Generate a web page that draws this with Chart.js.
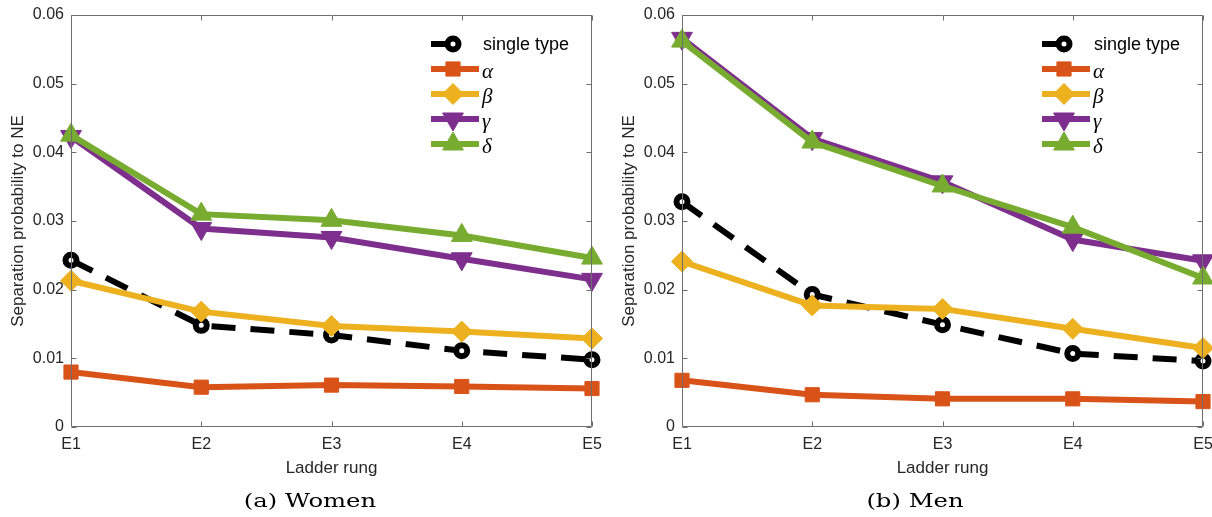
<!DOCTYPE html>
<html>
<head>
<meta charset="utf-8">
<script src="https://cdn.jsdelivr.net/npm/chart.js"></script>
<style>
  body { margin: 0; background: #fff; }
  .row { display: flex; width: 1212px; height: 517px; }
  canvas { display: block; }
</style>
</head>
<body>
<div class="row">
  <canvas id="women" width="606" height="517"></canvas>
  <canvas id="men" width="606" height="517"></canvas>
</div>
<script>
// Ladder rungs and y tick labels
const rungs = ['E1', 'E2', 'E3', 'E4', 'E5'];
const yTickLabels = ['0', '0.01', '0.02', '0.03', '0.04', '0.05', '0.06'];
const seriesNames = ['single type', 'α', 'β', 'γ', 'δ'];

// (a) Women
const womenSingle = [0.0243, 0.0148, 0.0134, 0.0111, 0.0098];
const womenAlpha  = [0.0080, 0.0058, 0.0061, 0.0059, 0.0056];
const womenBeta   = [0.0213, 0.0168, 0.0147, 0.0139, 0.0129];
const womenGamma  = [0.0423, 0.0289, 0.0276, 0.0245, 0.0215];
const womenDelta  = [0.0425, 0.0310, 0.0301, 0.0279, 0.0246];

// (b) Men
const menSingle = [0.0328, 0.0193, 0.0149, 0.0107, 0.0096];
const menAlpha  = [0.0068, 0.0047, 0.0041, 0.0041, 0.0037];
const menBeta   = [0.0241, 0.0177, 0.0172, 0.0143, 0.0115];
const menGamma  = [0.0566, 0.0420, 0.0357, 0.0273, 0.0242];
const menDelta  = [0.0562, 0.0415, 0.0351, 0.0291, 0.0217];

const sans = "'Liberation Sans', Arial, sans-serif";
const axisColor = '#6e6e6e';

function styles() {
    return [
        { borderColor: '#000000', borderDash: [24, 15], pointStyle: 'circle', pointRadius: 5.5,
          pointBorderWidth: 6, pointBackgroundColor: '#ffffff', pointBorderColor: '#000000', order: 5 },
        { borderColor: '#D95319', pointStyle: 'rect', pointRadius: 10, pointBorderWidth: 1,
          pointBackgroundColor: '#D95319', pointBorderColor: '#D95319', order: 4 },
        { borderColor: '#EDB120', pointStyle: 'rectRot', pointRadius: 10.5, pointBorderWidth: 1,
          pointBackgroundColor: '#EDB120', pointBorderColor: '#EDB120', order: 3 },
        { borderColor: '#7E2F8E', pointStyle: 'triangle', pointRotation: 180, pointRadius: 12, pointBorderWidth: 1,
          pointBackgroundColor: '#7E2F8E', pointBorderColor: '#7E2F8E', order: 2 },
        { borderColor: '#77AC30', pointStyle: 'triangle', pointRadius: 12, pointBorderWidth: 1,
          pointBackgroundColor: '#77AC30', pointBorderColor: '#77AC30', order: 1 }
    ];
}

// box, inward ticks, legend and caption
const matlabLook = {
    id: 'matlabLook',
    afterDraw(chart, args, opts) {
        const ctx = chart.ctx;
        const a = chart.chartArea;
        const xs = chart.scales.x, ys = chart.scales.y;
        const L = Math.round(a.left) + 0.5, R = Math.round(a.right) - 0.5;
        const T = Math.round(a.top) + 0.5, B = Math.round(a.bottom) - 0.5;
        ctx.save();
        ctx.strokeStyle = axisColor;
        ctx.lineWidth = 1;
        ctx.beginPath();
        ctx.rect(L, T, R - L, B - T);
        ys.ticks.forEach((t, i) => {
            const y = Math.round(ys.getPixelForTick(i)) + 0.5;
            ctx.moveTo(L, y); ctx.lineTo(L + 5, y);
            ctx.moveTo(R, y); ctx.lineTo(R - 5, y);
        });
        xs.ticks.forEach((t, i) => {
            const x = Math.round(xs.getPixelForTick(i)) + 0.5;
            ctx.moveTo(x, B); ctx.lineTo(x, B - 5);
            ctx.moveTo(x, T); ctx.lineTo(x, T + 5);
        });
        ctx.stroke();

        // legend inside top right
        const x0 = a.right - 161;
        chart.data.datasets.forEach((ds, i) => {
            const y = a.top + 29 + i * 25;
            ctx.strokeStyle = ds.borderColor;
            ctx.lineWidth = ds.borderWidth;
            ctx.setLineDash([]);
            ctx.beginPath();
            ctx.moveTo(x0, y);
            ctx.lineTo(ds.borderDash ? x0 + 28 : x0 + 48, y);
            ctx.stroke();
            ctx.fillStyle = ds.pointBackgroundColor;
            ctx.strokeStyle = ds.pointBorderColor;
            ctx.lineWidth = ds.pointBorderWidth;
            Chart.helpers.drawPoint(ctx, {
                pointStyle: ds.pointStyle, rotation: ds.pointRotation || 0,
                radius: ds.pointRadius, borderWidth: ds.pointBorderWidth
            }, x0 + 22, y);
            ctx.fillStyle = '#000';
            ctx.textBaseline = 'middle';
            ctx.textAlign = 'left';
            if (i === 0) {
                ctx.font = '18px ' + sans;
                ctx.fillText(ds.label, x0 + 52, y + 1);
            } else {
                ctx.font = "italic 21px 'Liberation Serif', 'DejaVu Serif', serif";
                ctx.fillText(ds.label, x0 + 51, y + 3);
            }
        });

        // caption
        ctx.save();
        ctx.translate(opts.captionX, 502);
        ctx.scale(1.28, 1);
        ctx.font = "19px 'DejaVu Serif', serif";
        ctx.fillStyle = '#000';
        ctx.textAlign = 'center';
        ctx.textBaseline = 'middle';
        ctx.fillText(opts.caption, 0, 0);
        ctx.restore();
        ctx.restore();
    }
};

function makeChart(id, values, caption, padLeft, padRight, captionX) {
    const st = styles();
    const datasets = values.map((v, i) => Object.assign({
        label: seriesNames[i],
        data: v,
        borderWidth: 6,
        fill: false,
        tension: 0,
        clip: false
    }, st[i]));

    return new Chart(document.getElementById(id), {
        type: 'line',
        data: { labels: rungs, datasets: datasets },
        plugins: [matlabLook],
        options: {
            responsive: false,
            animation: false,
            devicePixelRatio: 1,
            layout: { autoPadding: false, padding: { left: padLeft, right: padRight, top: 15, bottom: 34 } },
            scales: {
                x: {
                    offset: false,
                    grid: { display: false, drawTicks: false },
                    border: { display: false },
                    ticks: { color: '#262626', font: { family: sans, size: 16 }, padding: 8, autoSkip: false, maxRotation: 0 },
                    title: { display: true, text: 'Ladder rung', color: '#262626', font: { family: sans, size: 17 },
                             padding: { top: 0, bottom: 4 } },
                    afterFit(scale) { scale.height = 56; scale.paddingLeft = 0; scale.paddingRight = 0; }
                },
                y: {
                    min: 0,
                    max: 0.06,
                    grid: { display: false, drawTicks: false },
                    border: { display: false },
                    ticks: {
                        stepSize: 0.01,
                        color: '#262626',
                        font: { family: sans, size: 16 },
                        padding: 7,
                        callback: (v, i) => yTickLabels[i]
                    },
                    title: { display: true, text: 'Separation probability to NE', color: '#262626',
                             font: { family: sans, size: 17 }, padding: { top: 8, bottom: 0 } },
                    afterFit(scale) { scale.width = 71; scale.paddingTop = 0; scale.paddingBottom = 0; }
                }
            },
            plugins: {
                legend: { display: false },
                tooltip: { enabled: false },
                matlabLook: { caption: caption, captionX: captionX }
            }
        }
    });
}

makeChart('women', [womenSingle, womenAlpha, womenBeta, womenGamma, womenDelta], '(a) Women', 0, 14, 310);
makeChart('men', [menSingle, menAlpha, menBeta, menGamma, menDelta], '(b) Men', 5, 9, 309);
</script>
</body>
</html>
